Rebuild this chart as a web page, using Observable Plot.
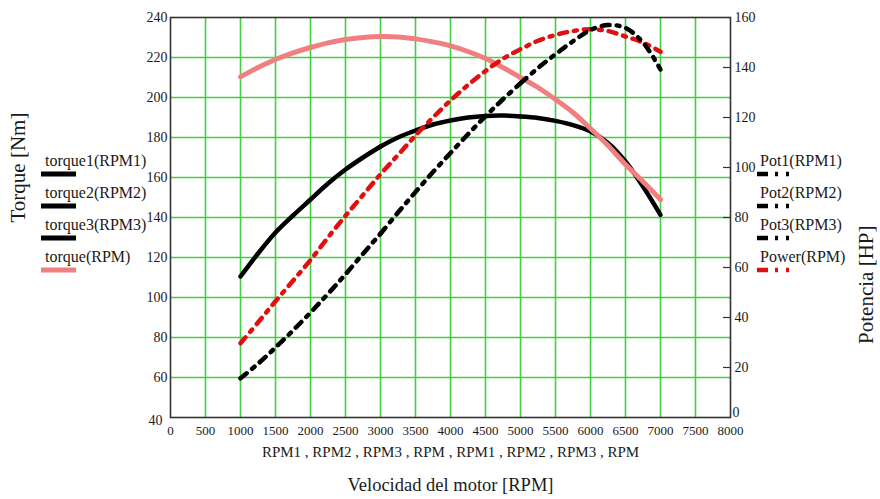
<!DOCTYPE html>
<html>
<head>
<meta charset="utf-8">
<script src="https://cdn.jsdelivr.net/npm/d3@7"></script>
<script src="https://cdn.jsdelivr.net/npm/@observablehq/plot@0.6"></script>
<style>
  html, body { margin: 0; padding: 0; background: #fff; }
  #wrap { position: relative; width: 880px; height: 499px; }
  #legend { position: absolute; left: 0; top: 0; pointer-events: none; }
</style>
</head>
<body>
<div id="wrap"></div>
<script>
// ---- data ----
const rpm1 = [1000, 1250, 1500, 1750, 2000, 2250, 2500, 2750, 3000];
const rpm2 = [3000, 3250, 3500, 3750, 4000, 4250, 4500, 4750, 5000];
const rpm3 = [5000, 5250, 5500, 5750, 6000, 6250, 6500, 6750, 7000];
const torque1 = [110.5, 122, 132.5, 141, 149, 157, 164, 170, 175.5];
const torque2 = [175.5, 180, 183.5, 186.5, 188.5, 190, 190.8, 191, 190.5];
const torque3 = [190.5, 189.8, 188.3, 186.2, 183, 177.3, 168, 155.5, 141.3];
const pot1 = [15.7, 21.5, 28, 34.8, 42, 49.5, 57.3, 65.5, 73.5];
const pot2 = [73.5, 82, 90.2, 98.2, 105.8, 113.3, 120.5, 127.3, 133.7];
const pot3 = [133.7, 139.8, 145.3, 150.5, 155, 157, 155.8, 150, 139.2];
const rpm = [1000, 1250, 1500, 1750, 2000, 2250, 2500, 2750, 3000, 3250, 3500, 3750, 4000,
             4250, 4500, 4750, 5000, 5250, 5500, 5750, 6000, 6250, 6500, 6750, 7000];
const torque = [210.3, 215, 219, 222.3, 225, 227.3, 229, 230, 230.5, 230.3, 229.3, 227.8, 225.8,
                223, 219.5, 215, 210, 205, 199, 192.5, 184.5, 176, 166.5, 158, 149];
const power = [29.7, 38, 46.5, 54.7, 63, 72, 80.7, 89, 97.3, 105, 112.8, 120, 126.8,
               133, 138.6, 143.5, 147.3, 150.7, 153, 154.6, 155.3, 154.6, 152.4, 150, 146.3];

const xTicks = [0, 500, 1000, 1500, 2000, 2500, 3000, 3500, 4000, 4500, 5000, 5500, 6000, 6500, 7000, 7500, 8000];
const torqueTicks = [40, 60, 80, 100, 120, 140, 160, 180, 200, 220, 240];
const hpTicks = [0, 20, 40, 60, 80, 100, 120, 140, 160];
const leftLegend = ["torque1(RPM1)", "torque2(RPM2)", "torque3(RPM3)", "torque(RPM)"];
const rightLegend = ["Pot1(RPM1)", "Pot2(RPM2)", "Pot3(RPM3)", "Power(RPM)"];
const xLabel = "RPM1 , RPM2 , RPM3 , RPM , RPM1 , RPM2 , RPM3 , RPM";
const xTitle = "Velocidad del motor [RPM]";
const yTitle = "Torque [Nm]";
const y2Title = "Potencia [HP]";

// ---- build tables ----
const hpToNm = h => 40 + h * 1.25;   // right axis 0..160 HP mapped onto 40..240 Nm
const rows = (xs, ys) => xs.map((x, i) => ({x, v: ys[i]}));
const t1 = rows(rpm1, torque1), t2 = rows(rpm2, torque2), t3 = rows(rpm3, torque3);
const p1 = rows(rpm1, pot1), p2 = rows(rpm2, pot2), p3 = rows(rpm3, pot3);
const tq = rows(rpm, torque), pw = rows(rpm, power);

const green = "#42cf42";
const black = "#000";
const pink = "#f08080";
const red = "#e01010";
const dash = "8,7,3,7";

const blackLine = d => Plot.line(d, {x: "x", y: "v", stroke: black, strokeWidth: 4.5, curve: "catmull-rom"});
const dashLine = (d, c) => Plot.line(d, {x: "x", y: p => hpToNm(p.v), stroke: c, strokeWidth: 4.5,
  strokeDasharray: dash, curve: "catmull-rom"});
const hpFmt = v => String(Math.round((v - 40) / 1.25));

const chart = Plot.plot({
  width: 880,
  height: 499,
  marginLeft: 170,
  marginRight: 150,
  marginTop: 17,
  marginBottom: 82,
  style: {fontFamily: "'Liberation Serif', 'Times New Roman', serif", fontSize: "13px", color: "#1a1a1a", background: "#fff"},
  x: {domain: [0, 8000]},
  y: {domain: [40, 240]},
  marks: [
    Plot.gridX(xTicks.slice(1, -1), {stroke: green, strokeOpacity: 1, strokeWidth: 1.6}),
    Plot.gridY(torqueTicks.slice(1, -1), {stroke: green, strokeOpacity: 1, strokeWidth: 1.6}),
    blackLine(t1), blackLine(t2), blackLine(t3),
    Plot.line(tq, {x: "x", y: "v", stroke: pink, strokeWidth: 5, curve: "catmull-rom"}),
    dashLine(pw, red),
    dashLine(p1, black), dashLine(p2, black), dashLine(p3, black),
    Plot.ruleY(hpTicks.slice(1, -1), {y: hpToNm, x1: 7900, x2: 8000, stroke: "#333", strokeWidth: 1.2}),
    Plot.frame({stroke: "#333", strokeWidth: 1.6}),
    Plot.axisX(xTicks, {anchor: "bottom", tickSize: 0, tickPadding: 8, label: null, fontSize: 13,
      tickFormat: d => String(d)}),
    Plot.axisY(torqueTicks.slice(1), {anchor: "left", tickSize: 0, tickPadding: 3, label: null, fontSize: 14}),
    Plot.axisY(torqueTicks.slice(0, 1), {anchor: "left", tickSize: 0, tickPadding: 8, dy: 3, label: null, fontSize: 14}),
    Plot.axisY(hpTicks.slice(1).map(hpToNm), {anchor: "right", tickSize: 0, tickPadding: 4, label: null, fontSize: 14,
      tickFormat: hpFmt}),
    Plot.axisY(hpTicks.slice(0, 1).map(hpToNm), {anchor: "right", tickSize: 0, tickPadding: 2, dy: -5, label: null, fontSize: 14,
      tickFormat: hpFmt}),
    Plot.text([xLabel], {frameAnchor: "bottom", dy: 39, fontSize: 15}),
    Plot.text([xTitle], {frameAnchor: "bottom", dy: 73, fontSize: 18.5}),
    Plot.text([yTitle], {frameAnchor: "left", dx: -152, dy: 5, rotate: -90, fontSize: 21}),
    Plot.text([y2Title], {frameAnchor: "right", dx: 136, dy: 8, rotate: -90, fontSize: 21})
  ]
});

const wrap = document.getElementById("wrap");
wrap.appendChild(chart);

// ---- legends (overlay) ----
const svg = d3.select(wrap).append("svg").attr("id", "legend").attr("width", 880).attr("height", 499);
const rowsY = [161, 193, 225, 257];
const font = "'Liberation Serif', 'Times New Roman', serif";
leftLegend.forEach((name, i) => {
  svg.append("text").attr("x", 45).attr("y", rowsY[i]).attr("dy", "0.32em")
    .attr("font-family", font).attr("font-size", 16).attr("fill", "#1a1a1a").text(name);
  svg.append("line").attr("x1", 41).attr("x2", 76).attr("y1", rowsY[i] + 13).attr("y2", rowsY[i] + 13)
    .attr("stroke", i === 3 ? pink : black).attr("stroke-width", 5);
});
rightLegend.forEach((name, i) => {
  svg.append("text").attr("x", 760).attr("y", rowsY[i]).attr("dy", "0.32em")
    .attr("font-family", font).attr("font-size", 16).attr("fill", "#1a1a1a").text(name);
  svg.append("line").attr("x1", 757).attr("x2", 790).attr("y1", rowsY[i] + 13).attr("y2", rowsY[i] + 13)
    .attr("stroke", i === 3 ? red : black).attr("stroke-width", 4.5)
    .attr("stroke-dasharray", "11,7,3,8,3,100");
});
</script>
</body>
</html>
